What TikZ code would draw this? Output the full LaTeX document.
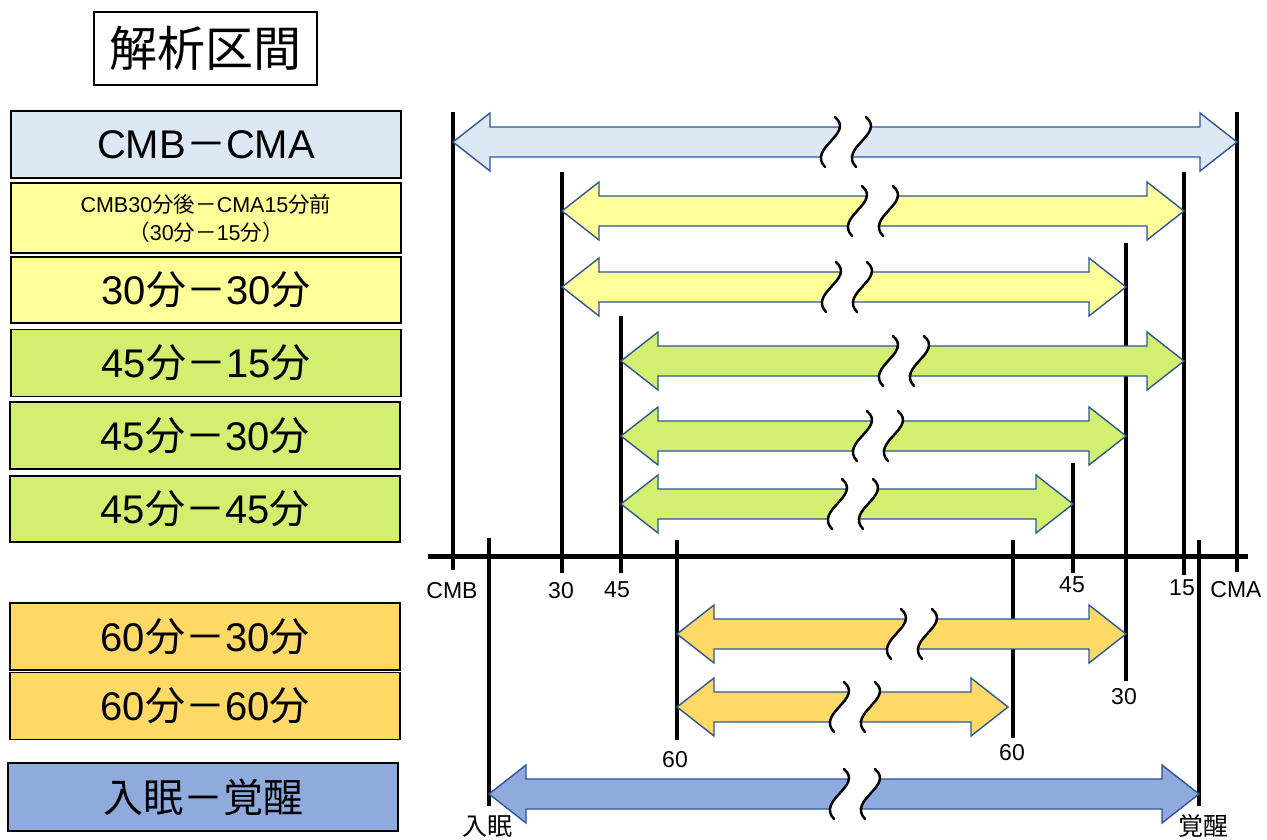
\documentclass[tikz,border=0pt]{standalone}
\usepackage{fontspec}
\setmainfont{Liberation Sans}
\newfontfamily\cjk{Noto Sans CJK JP}
\definecolor{cLB}{HTML}{DDE8F5}
\definecolor{cY}{HTML}{FFFF99}
\definecolor{cG}{HTML}{D3EF6F}
\definecolor{cO}{HTML}{FFD966}
\definecolor{cB}{HTML}{8FAADC}
\definecolor{arrowblue}{HTML}{2F5597}
\newcommand\jp[1]{{\cjk #1}}
\newcommand\fs[1]{\fontsize{#1}{#1}\selectfont}
% L R y b color
\newcommand\dblarrow[5]{%
  \filldraw[arrowline, fill=#5] (#1,#3) -- ({#1+37},{#3-29}) -- ({#1+37},{#3-15}) -- ({#2-37},{#3-15}) -- ({#2-37},{#3-29}) -- (#2,#3) -- ({#2-37},{#3+29}) -- ({#2-37},{#3+15}) -- ({#1+37},{#3+15}) -- ({#1+37},{#3+29}) -- cycle;
  \fill[white] ({#4+4},{#3-25}) .. controls ({#4+24},{#3-8}) and ({#4-24},{#3+6}) .. ({#4-6},{#3+25}) -- ({#4+25},{#3+25}) .. controls ({#4+7},{#3+6}) and ({#4+55},{#3-8}) .. ({#4+35},{#3-25}) -- cycle;
  \draw[brk] ({#4+4},{#3-25}) .. controls ({#4+24},{#3-8}) and ({#4-24},{#3+6}) .. ({#4-6},{#3+25});
  \draw[brk] ({#4+35},{#3-25}) .. controls ({#4+55},{#3-8}) and ({#4+7},{#3+6}) .. ({#4+25},{#3+25});
}
\begin{document}
\begin{tikzpicture}[x=1pt,y=-1pt,
  lbox/.style={draw=black, line width=1.5pt, minimum width=390pt, minimum height=67pt, inner sep=0pt, font=\fs{40}},
  ax/.style={font=\fs{23}, inner sep=0pt},
  vline/.style={line width=4pt},
  arrowline/.style={draw=arrowblue, line width=1.4pt, line join=miter},
  brk/.style={line width=2.5pt, black, line cap=round}]
\useasboundingbox[fill=white] (0,0) rectangle (1267,840);

% title
\node[draw=black, line width=2pt, minimum width=223pt, minimum height=73pt, inner sep=0pt, font=\fs{48}] (title) at (205.5,48.5) {\jp{解析区間}};

% left boxes
\node[lbox, fill=cLB] (b1) at (206,144.5) {CMB\jp{－}CMA};
\node[lbox, fill=cY, minimum height=70pt, align=center, font=\fontsize{21.5}{28}\selectfont] (b2) at (206,218) {CMB30\jp{分後－}CMA15\jp{分前}\\\jp{（}30\jp{分－}15\jp{分）}};
\node[lbox, fill=cY, minimum height=66pt] (b3) at (206,290) {30\jp{分－}30\jp{分}};
\node[lbox, fill=cG] (b4) at (206,363) {45\jp{分－}15\jp{分}};
\node[lbox, fill=cG] (b5) at (205,435.5) {45\jp{分－}30\jp{分}};
\node[lbox, fill=cG, minimum height=66pt] (b6) at (205,509) {45\jp{分－}45\jp{分}};
\node[lbox, fill=cO] (b7) at (205,636.5) {60\jp{分－}30\jp{分}};
\node[lbox, fill=cO] (b8) at (205,706) {60\jp{分－}60\jp{分}};
\node[lbox, fill=cB, minimum height=68pt] (b9) at (203,797) {\jp{入眠－覚醒}};

% vertical lines
\coordinate (cmbT) at (453,112);  \coordinate (cmbB) at (453,570);
\coordinate (t30T) at (562,172);  \coordinate (t30B) at (562,573);
\coordinate (t45T) at (621,316);  \coordinate (t45B) at (621,573);
\coordinate (t60T) at (677,540);  \coordinate (t60B) at (677,740);
\coordinate (nyT) at (489,538);   \coordinate (nyB) at (489,806);
\coordinate (r45T) at (1073,463); \coordinate (r45B) at (1073,573);
\coordinate (r60T) at (1013,540); \coordinate (r60B) at (1013,738);
\coordinate (r30T) at (1126,243); \coordinate (r30B) at (1126,681);
\coordinate (r15T) at (1184,172); \coordinate (r15B) at (1184,575);
\coordinate (kkT) at (1199,540);  \coordinate (kkB) at (1199,806);
\coordinate (cmaT) at (1237,112); \coordinate (cmaB) at (1237,572);
\foreach \a in {cmb,t30,t45,t60,ny,r45,r60,r30,r15,kk,cma}
  \draw[vline] (\a T) -- (\a B);

% axis
\coordinate (axL) at (428,556); \coordinate (axR) at (1248,556);
\draw[line width=5pt] (axL) -- (axR);

% arrows
\dblarrow{453}{1237}{142}{831}{cLB}
\dblarrow{562}{1184}{211}{858}{cY}
\dblarrow{562}{1126}{287}{832}{cY}
\dblarrow{621}{1184}{361}{889}{cG}
\dblarrow{621}{1126}{436}{863}{cG}
\dblarrow{621}{1073}{504}{838}{cG}
\dblarrow{677}{1126}{634}{897}{cO}
\dblarrow{677}{1008}{707}{840}{cO}
\dblarrow{489}{1199}{794}{840}{cB}

% axis labels
\node[ax] (lCMB) at (452,591) {CMB};
\node[ax] (l30) at (561,591) {30};
\node[ax] (l45) at (617,590) {45};
\node[ax] (r45l) at (1072,585) {45};
\node[ax] (l15) at (1182,588) {15};
\node[ax] (lCMA) at (1236,590) {CMA};
\node[ax] (r30l) at (1124,697) {30};
\node[ax] (l60) at (675,760) {60};
\node[ax] (r60l) at (1012,753) {60};
\node[ax, font=\cjk\fs{25}] (lny) at (487,827) {入眠};
\node[ax, font=\cjk\fs{25}] (lkk) at (1203,826) {覚醒};
\end{tikzpicture}
\end{document}
